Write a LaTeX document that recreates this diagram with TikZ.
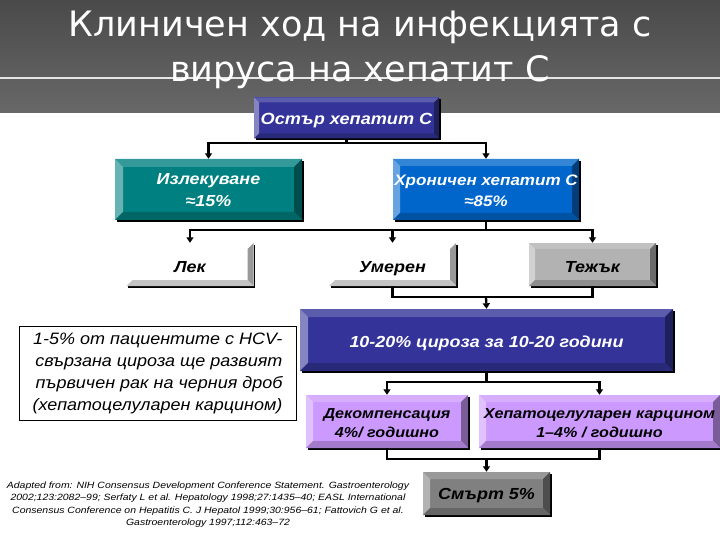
\documentclass[tikz,border=0pt]{standalone}
\usepackage{fontspec}
\setmainfont{Liberation Sans}
\newfontfamily\titlefont{DejaVu Sans}
\newfontfamily\widefont[FakeStretch=1.12]{Liberation Sans}
\newfontfamily\notefont[FakeStretch=1.09]{Liberation Sans}
\newfontfamily\refsfont[FakeStretch=1.15]{Liberation Sans}
\usetikzlibrary{calc,arrows.meta,shadings,shadows}
\definecolor{hdtop}{HTML}{4A4A4A}
\definecolor{hdbot}{HTML}{686868}
\newcommand\dn[1]{\rule{0pt}{#1pt}}
\tikzset{
  x=1pt,y=-1pt,
  conn/.style={line width=2.3pt,black},
  arr/.style={conn,-{Triangle[length=5.5pt,width=7pt]}},
  bev/.style n args={6}{
    drop shadow={shadow xshift=1.6pt,shadow yshift=-1.6pt,fill=black,opacity=1},
    fill=#1,minimum width=\pgfkeysvalueof{/tikz/bw},minimum height=\pgfkeysvalueof{/tikz/bh},inner sep=0pt,align=center,text depth=0pt,
    path picture={
      \coordinate (nw) at (path picture bounding box.north west);
      \coordinate (ne) at (path picture bounding box.north east);
      \coordinate (sw) at (path picture bounding box.south west);
      \coordinate (se) at (path picture bounding box.south east);
      \coordinate (inw) at ($(nw)+(#6pt,-#6pt)$);
      \coordinate (ine) at ($(ne)+(-#6pt,-#6pt)$);
      \coordinate (isw) at ($(sw)+(#6pt,#6pt)$);
      \coordinate (ise) at ($(se)+(-#6pt,#6pt)$);
      \fill[#2] (nw)--(ne)--(ine)--(inw)--cycle;
      \fill[#3] (nw)--(sw)--(isw)--(inw)--cycle;
      \fill[#4] (ne)--(se)--(ise)--(ine)--cycle;
      \fill[#5] (sw)--(se)--(ise)--(isw)--cycle;
    }},
  bw/.initial=100pt,bh/.initial=40pt,
  lbl/.style={font=\widefont\bfseries\itshape\fontsize{16}{22}\selectfont},
  lblb/.style={font=\widefont\bfseries\itshape\fontsize{15.2}{21}\selectfont},
  lbls/.style={font=\widefont\bfseries\itshape\fontsize{14.4}{19}\selectfont},
}
\definecolor{c1}{HTML}{333399}\definecolor{c2}{HTML}{5C5CAD}\definecolor{c3}{HTML}{8585C2}\definecolor{c4}{HTML}{1F1F5C}\definecolor{c5}{HTML}{29297A}
\definecolor{t1}{HTML}{008080}\definecolor{t2}{HTML}{339999}\definecolor{t3}{HTML}{66B3B3}\definecolor{t4}{HTML}{004D4D}\definecolor{t5}{HTML}{006666}
\definecolor{b1}{HTML}{0066CC}\definecolor{b2}{HTML}{3385D6}\definecolor{b3}{HTML}{66A3E0}\definecolor{b4}{HTML}{003D7A}\definecolor{b5}{HTML}{0052A3}
\definecolor{p1}{HTML}{CC99FF}\definecolor{p2}{HTML}{D6ADFF}\definecolor{p3}{HTML}{E0C2FF}\definecolor{p4}{HTML}{7A5C99}\definecolor{p5}{HTML}{A37ACC}
\definecolor{g1}{HTML}{B2B2B2}\definecolor{g2}{HTML}{C1C1C1}\definecolor{g3}{HTML}{D1D1D1}\definecolor{g4}{HTML}{6B6B6B}\definecolor{g5}{HTML}{8E8E8E}
\definecolor{d1}{HTML}{808080}\definecolor{d2}{HTML}{999999}\definecolor{d3}{HTML}{B3B3B3}\definecolor{d4}{HTML}{4D4D4D}\definecolor{d5}{HTML}{666666}
\definecolor{w4}{HTML}{999999}\definecolor{w5}{HTML}{C4C4C4}
\begin{document}
\begin{tikzpicture}
\useasboundingbox (0,0) rectangle (720,540);
\fill[white] (0,0) rectangle (720,540);
\shade[top color=hdtop,bottom color=hdbot] (0,0) rectangle (720,113);
\fill[white!80!gray] (0,77.3) rectangle (720,78.7);
\node[text=white,font=\titlefont\fontsize{35}{45}\selectfont,align=center] (title) at (360,50) {Клиничен ход на инфекцията с\\вируса на хепатит С};

% boxes: centre coordinates
\node[bw=185pt,bh=41pt,bev={c1}{c2}{c3}{c4}{c5}{5},text=white,font=\widefont\bfseries\itshape\fontsize{16.2}{20}\selectfont] (acute) at (346.5,118) {\dn{14}Остър хепатит С};
\node[bw=187pt,bh=61pt,bev={t1}{t2}{t3}{t4}{t5}{8},text=white,lbl] (cured) at (208.5,189.5) {\dn{13}Излекуване\\≈15\%};
\node[bw=186pt,bh=61pt,bev={b1}{b2}{b3}{b4}{b5}{7},text=white,lblb] (chronic) at (486,189.5) {\dn{13}Хроничен хепатит С\\≈85\%};
\node[bw=127pt,bh=43pt,bev={white}{white}{white}{w4}{w5}{6},lbl] (mild) at (190,264.5) {\dn{15}Лек};
\node[bw=127pt,bh=43pt,bev={white}{white}{white}{w4}{w5}{6},lbl] (moderate) at (392.5,264.5) {\dn{15}Умерен};
\node[bw=127pt,bh=43pt,bev={g1}{g2}{g3}{g4}{g5}{6},lbl] (severe) at (592.5,264.5) {\dn{15}Тежък};
\node[bw=373pt,bh=62pt,bev={c1}{c2}{c3}{c4}{c5}{8},text=white,lbl] (cirr) at (486.5,340) {\dn{14}10-20\% цироза за 10-20 години};
\node[bw=162pt,bh=53pt,bev={p1}{p2}{p3}{p4}{p5}{7},lbls] (decomp) at (387,421.5) {\dn{12}Декомпенсация\\4\%/ годишно};
\node[bw=241pt,bh=53pt,bev={p1}{p2}{p3}{p4}{p5}{7},lbls] (hcc) at (599.5,421.5) {\dn{12}Хепатоцелуларен карцином\\1–4\% / годишно};
\node[bw=127pt,bh=43pt,bev={d1}{d2}{d3}{d4}{d5}{7},lbl] (death) at (486.5,493.5) {\dn{12}Смърт 5\%};
\node[draw=black,line width=0.8pt,minimum width=277pt,minimum height=94pt,inner sep=0pt,align=right,font=\notefont\itshape\fontsize{16.5}{22}\selectfont] (note) at (157.5,373) {1-5\% от пациентите с HCV-\\свързана цироза ще развият\\първичен рак на черния дроб\\(хепатоцелуларен карцином)};
\node[align=center,font=\refsfont\itshape\fontsize{9.1}{12.4}\selectfont] (refs) at (208,504.5) {Adapted from: NIH Consensus Development Conference Statement. Gastroenterology\\2002;123:2082–99; Serfaty L et al. Hepatology 1998;27:1435–40; EASL International\\Consensus Conference on Hepatitis C. J Hepatol 1999;30:956–61; Fattovich G et al.\\Gastroenterology 1997;112:463–72};

% bus coordinates
\coordinate (b1) at (346.5,143);
\coordinate (b2) at (486,230);
\coordinate (b3) at (486,297);
\coordinate (b4) at (486.5,382);
\coordinate (b5) at (486.5,459);
\draw[conn] (acute.south) -- (b1);
\draw[arr] (b1) -| (cured.north);
\draw[arr] (b1) -| (chronic.north);
\draw[conn] (chronic.south) -- (b2);
\draw[arr] (b2) -| (mild.north);
\draw[arr] (b2) -| (moderate.north);
\draw[arr] (b2) -| (severe.north);
\draw[conn] (moderate.south) |- (b3);
\draw[conn] (severe.south) |- (b3);
\draw[arr] (b3) -- (cirr.north);
\draw[conn] (cirr.south) -- (b4);
\draw[arr] (b4) -| (decomp.north);
\draw[arr] (b4) -| (hcc.north);
\draw[conn] (decomp.south) |- (b5);
\draw[conn] (hcc.south) |- (b5);
\draw[arr] (b5) -- (death.north);
\end{tikzpicture}
\end{document}
